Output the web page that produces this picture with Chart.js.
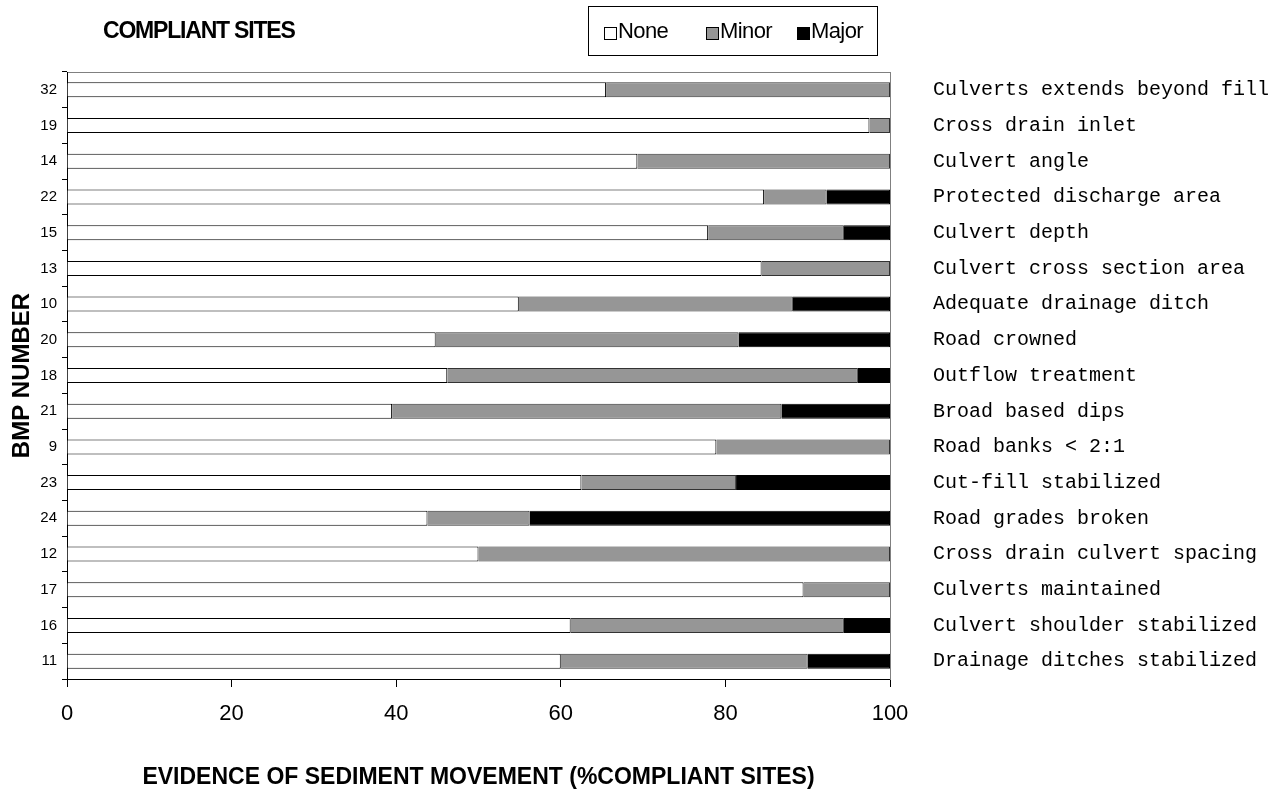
<!DOCTYPE html>
<html>
<head>
<meta charset="utf-8">
<script src="https://cdn.jsdelivr.net/npm/chart.js@4"></script>
<style>
  body { margin: 0; background: #fff; }
  #wrap { position: relative; width: 1276px; height: 797px; }
  #title { position: absolute; left: 103px; top: 17px; line-height: 1; font: bold 23px "Liberation Sans", Arial, sans-serif; letter-spacing: -1.2px; }
  #legend { position: absolute; left: 588px; top: 6px; width: 290px; height: 50px; border: 1px solid #000; box-sizing: border-box;
            font: 22px "Liberation Sans", Arial, sans-serif; letter-spacing: -0.6px; }
  #legend .box { position: absolute; top: 20px; width: 11px; height: 11px; border: 1px solid #000; }
  #legend .txt { position: absolute; top: 13px; line-height: 1; }
</style>
</head>
<body>
<div id="wrap">
  <canvas id="myChart" width="1276" height="797"></canvas>
  <div id="title">COMPLIANT SITES</div>
  <div id="legend">
    <span class="box" style="left:15px;background:#fff"></span><span class="txt" style="left:29px">None</span>
    <span class="box" style="left:117px;background:#969696"></span><span class="txt" style="left:131px">Minor</span>
    <span class="box" style="left:208px;background:#000"></span><span class="txt" style="left:222px">Major</span>
  </div>
</div>
<script>
var bmpNumbers = ["32", "19", "14", "22", "15", "13", "10", "20", "18", "21", "9", "23", "24", "12", "17", "16", "11"];
var bmpNames = ["Culverts extends beyond fill", "Cross drain inlet", "Culvert angle", "Protected discharge area",
    "Culvert depth", "Culvert cross section area", "Adequate drainage ditch", "Road crowned", "Outflow treatment",
    "Broad based dips", "Road banks < 2:1", "Cut-fill stabilized", "Road grades broken", "Cross drain culvert spacing",
    "Culverts maintained", "Culvert shoulder stabilized", "Drainage ditches stabilized"];
var noneValues = [65.5, 97.5, 69.3, 84.7, 77.9, 84.4, 54.9, 44.8, 46.2, 39.5, 78.9, 62.5, 43.8, 50.0, 89.5, 61.2, 60.0];
var minorValues = [34.5, 2.5, 30.7, 7.6, 16.5, 15.6, 33.3, 36.8, 49.9, 47.3, 21.1, 18.8, 12.4, 50.0, 10.5, 33.2, 30.0];
var majorValues = [0, 0, 0, 7.7, 5.6, 0, 11.8, 18.4, 3.9, 13.2, 0, 18.7, 43.8, 0, 0, 5.6, 10.0];
var xTicks = [0, 20, 40, 60, 80, 100];

var sans = "'Liberation Sans', Arial, sans-serif";

new Chart("myChart", {
    type: "bar",
    data: {
        labels: bmpNumbers,
        datasets: [
            { label: "None", data: noneValues, backgroundColor: "#ffffff", borderColor: "#000000", borderWidth: 1 },
            { label: "Minor", data: minorValues, backgroundColor: "#969696", borderColor: "#333333", borderWidth: 1 },
            { label: "Major", data: majorValues, backgroundColor: "#000000", borderColor: "#000000", borderWidth: 1 }
        ]
    },
    options: {
        indexAxis: "y",
        responsive: false,
        animation: false,
        devicePixelRatio: 1,
        layout: { padding: 0 },
        datasets: { bar: { barPercentage: 0.42, categoryPercentage: 1.0 } },
        plugins: {
            legend: { display: false },
            title: { display: false },
            tooltip: { enabled: false }
        },
        scales: {
            x: {
                stacked: true, min: 0, max: 100,
                afterBuildTicks: function (s) { s.ticks = xTicks.map(function (v) { return { value: v }; }); },
                afterFit: function (s) { s.height = 118; },
                ticks: { color: "#000", font: { family: sans, size: 22 }, padding: 14 },
                grid: { drawOnChartArea: false, tickLength: 8, color: "#000" },
                border: { color: "#000" },
                title: {
                    display: true, text: "EVIDENCE OF SEDIMENT MOVEMENT (%COMPLIANT SITES)", color: "#000",
                    font: { family: sans, size: 23, weight: "bold" }, padding: { top: 6, bottom: 6 }
                }
            },
            x2: {
                position: "top", min: 0, max: 100,
                afterFit: function (s) { s.height = 72; },
                ticks: { display: false },
                grid: { drawOnChartArea: false, drawTicks: false },
                border: { color: "#808080" }
            },
            y: {
                stacked: true,
                afterFit: function (s) { s.width = 67; },
                ticks: { color: "#000", font: { family: sans, size: 15 }, padding: 5 },
                grid: { drawOnChartArea: false, tickLength: 5, color: "#000" },
                border: { color: "#000" },
                title: {
                    display: true, text: "BMP NUMBER", color: "#000",
                    font: { family: sans, size: 24, weight: "bold" }, padding: { top: 8, bottom: 8 }
                }
            },
            y2: {
                type: "category", position: "right", labels: bmpNames, offset: true,
                afterFit: function (s) { s.width = 386; },
                ticks: { color: "#000", font: { family: "'Liberation Mono', monospace", size: 20 }, padding: 43 },
                grid: { drawOnChartArea: false, drawTicks: false },
                border: { color: "#808080" }
            }
        }
    }
});
</script>
</body>
</html>
